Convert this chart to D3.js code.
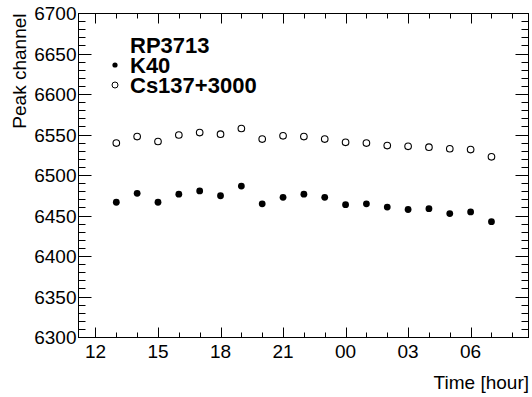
<!DOCTYPE html>
<html><head><meta charset="utf-8">
<script src="https://cdn.jsdelivr.net/npm/d3@7"></script>
<style>body{margin:0;background:#fff}svg{display:block}text{font-family:"Liberation Sans",Arial,Helvetica,sans-serif;fill:#000}</style>
</head><body>
<svg id="c" width="532" height="397"></svg>
<script>
// Data: hours since midnight of first day (13 = 13:00, 24 = 00:00 next day)
const hours = [13,14,15,16,17,18,19,20,21,22,23,24,25,26,27,28,29,30,31];
const k40 = [6467,6478,6467,6477,6481,6475,6487,6465,6473,6477,6473,6464,6465,6461,6458,6459,6453,6455,6443];
const cs137 = [6540,6548,6542,6550,6553,6551,6558,6545,6549,6548,6545,6541,6540,6537,6536,6535,6533,6532,6523];
const xMajorTicks = [12,15,18,21,24,27,30];
const yMajorTicks = [6300,6350,6400,6450,6500,6550,6600,6650,6700];
const legendLabels = ["RP3713","K40","Cs137+3000"];

const svg = d3.select("#c");
const L = 78.5, R = 528.5, T = 13.5, B = 337.5;
const x = d3.scaleLinear().domain([11.186, 32.777]).range([L, R]);
const y = d3.scaleLinear().domain([6300, 6700]).range([B, T]);

// frame
svg.append("rect").attr("x", L).attr("y", T).attr("width", R - L).attr("height", B - T)
  .attr("fill", "none").attr("stroke", "#000").attr("stroke-width", 1);

const g = svg.append("g").attr("stroke", "#000").attr("stroke-width", 1);
// x ticks (every hour minor, every 3 hours major)
const xMinor = d3.range(12, 33, 1);
xMinor.forEach(h => {
  const px = Math.round(x(h)) + 0.5;
  const len = xMajorTicks.includes(h) ? 10 : 5;
  g.append("line").attr("x1", px).attr("x2", px).attr("y1", B).attr("y2", B - len);
  g.append("line").attr("x1", px).attr("x2", px).attr("y1", T).attr("y2", T + len);
});
// y ticks (every 10 minor, every 50 major)
d3.range(6310, 6700, 10).forEach(v => {
  const py = Math.round(y(v) - 0.5) + 0.5;
  const len = yMajorTicks.includes(v) ? 13 : 7;
  g.append("line").attr("x1", L).attr("x2", L + len).attr("y1", py).attr("y2", py);
  g.append("line").attr("x1", R).attr("x2", R - len).attr("y1", py).attr("y2", py);
});

// x tick labels
svg.append("g").selectAll("text").data(xMajorTicks).join("text")
  .attr("x", d => x(d)).attr("y", 357.5).attr("text-anchor", "middle")
  .attr("font-size", 19).text(d => d3.format("02d")(d % 24));
// y tick labels
svg.append("g").selectAll("text").data(yMajorTicks).join("text")
  .attr("x", 76.5).attr("y", d => y(d)).attr("dy", "0.36em").attr("text-anchor", "end")
  .attr("font-size", 19).text(d => d);

// axis titles
svg.append("text").attr("x", 529).attr("y", 389).attr("text-anchor", "end")
  .attr("font-size", 19).text("Time [hour]");
svg.append("text").attr("transform", "translate(26,13.5) rotate(-90)").attr("text-anchor", "end")
  .attr("font-size", 19).text("Peak channel");

// data points
svg.append("g").selectAll("circle").data(hours).join("circle")
  .attr("cx", (d) => x(d)).attr("cy", (d, i) => y(cs137[i])).attr("r", 3.3)
  .attr("fill", "#fff").attr("stroke", "#000").attr("stroke-width", 1.1);
svg.append("g").selectAll("circle").data(hours).join("circle")
  .attr("cx", (d) => x(d)).attr("cy", (d, i) => y(k40[i])).attr("r", 3.4)
  .attr("fill", "#000");

// legend
const lg = svg.append("g");
const rows = [53.3, 72.7, 92.7];
legendLabels.forEach((t, i) => {
  lg.append("text").attr("x", 130).attr("y", rows[i]).attr("font-size", 22)
    .attr("font-weight", "bold").text(t);
});
lg.append("circle").attr("cx", 115).attr("cy", 65).attr("r", 2.6).attr("fill", "#000");
lg.append("circle").attr("cx", 115).attr("cy", 85).attr("r", 3).attr("fill", "#fff")
  .attr("stroke", "#000").attr("stroke-width", 1);
</script>
</body></html>
